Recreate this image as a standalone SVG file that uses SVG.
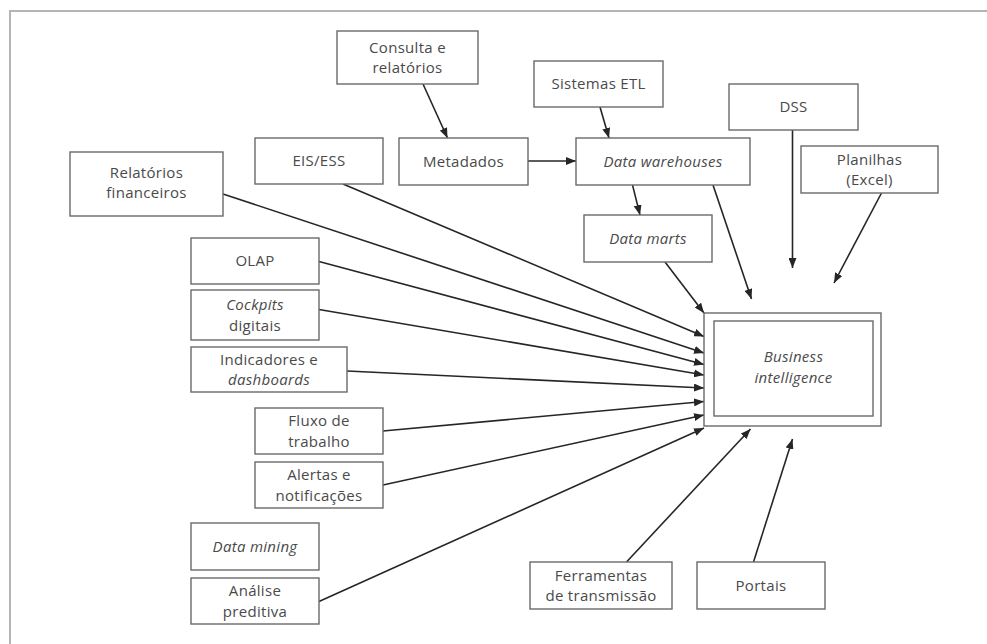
<svg xmlns="http://www.w3.org/2000/svg" width="987" height="644" viewBox="0 0 987 644">
  <style>
    .box { fill: #ffffff; stroke: #6a6a6a; stroke-width: 1.4; }
    .lbl { font-family: "Open Sans", "Noto Sans", "Liberation Sans", sans-serif; font-size: 15px; letter-spacing: 0.3px; fill: #4a4a4a; text-anchor: middle; }
    .it { font-style: italic; }
    .edge { fill: none; stroke: #262626; stroke-width: 1.6; marker-end: url(#arrow); }
    .frame { fill: none; stroke: #b4b4b4; stroke-width: 2; }
  </style>
  <defs>
    <marker id="arrow" viewBox="0 0 10 8" refX="10" refY="4" markerWidth="10" markerHeight="8" markerUnits="userSpaceOnUse" orient="auto">
      <path d="M0,0 L10,4 L0,8 Z" fill="#262626"/>
    </marker>
  </defs>

  <rect width="987" height="644" fill="#ffffff"/>
  <!-- open page frame: top and left edges only -->
  <path class="frame" d="M10,644 L10,11 L987,11"/>

  <g id="connectors">
    <line class="edge" x1="423" y1="84" x2="447.5" y2="138"/>
    <line class="edge" x1="600" y1="107" x2="609" y2="138"/>
    <line class="edge" x1="528" y1="161" x2="576" y2="161"/>
    <line class="edge" x1="632.5" y1="185" x2="640" y2="215"/>
    <line class="edge" x1="713" y1="185" x2="751.5" y2="299"/>
    <line class="edge" x1="792.5" y1="130" x2="792.5" y2="268"/>
    <line class="edge" x1="881.5" y1="193" x2="834" y2="283"/>
    <line class="edge" x1="665" y1="262" x2="704" y2="313"/>
    <line class="edge" x1="343" y1="184" x2="704" y2="336.5"/>
    <line class="edge" x1="223" y1="194" x2="704" y2="353"/>
    <line class="edge" x1="319" y1="261.5" x2="704" y2="364.5"/>
    <line class="edge" x1="319" y1="309.5" x2="704" y2="375"/>
    <line class="edge" x1="347" y1="371" x2="704" y2="388"/>
    <line class="edge" x1="383" y1="431" x2="704" y2="401.5"/>
    <line class="edge" x1="383" y1="485" x2="704" y2="415"/>
    <line class="edge" x1="319" y1="601.5" x2="704" y2="428"/>
    <line class="edge" x1="626.5" y1="562" x2="750.5" y2="429"/>
    <line class="edge" x1="753.5" y1="562" x2="792.5" y2="439"/>
  </g>

  <g id="consulta">
    <rect class="box" x="337" y="31" width="141" height="53"/>
    <text class="lbl" x="407.5" y="52.5">Consulta e</text>
    <text class="lbl" x="407.5" y="73">relatórios</text>
  </g>
  <g id="sistemas-etl">
    <rect class="box" x="534" y="61" width="129" height="46"/>
    <text class="lbl" x="598.5" y="89.4">Sistemas ETL</text>
  </g>
  <g id="dss">
    <rect class="box" x="729" y="84" width="129" height="46"/>
    <text class="lbl" x="793.5" y="112.4">DSS</text>
  </g>
  <g id="eis-ess">
    <rect class="box" x="255" y="138" width="128" height="46"/>
    <text class="lbl" x="319" y="166.4">EIS/ESS</text>
  </g>
  <g id="metadados">
    <rect class="box" x="399" y="138" width="129" height="47"/>
    <text class="lbl" x="463.5" y="166.9">Metadados</text>
  </g>
  <g id="data-warehouses">
    <rect class="box" x="576" y="138" width="174" height="47"/>
    <text class="lbl it" x="663" y="166.9">Data warehouses</text>
  </g>
  <g id="relatorios-financeiros">
    <rect class="box" x="70" y="152" width="153" height="64"/>
    <text class="lbl" x="146.5" y="177.5">Relatórios</text>
    <text class="lbl" x="146.5" y="198">financeiros</text>
  </g>
  <g id="planilhas">
    <rect class="box" x="801" y="146" width="137" height="47"/>
    <text class="lbl" x="869.5" y="164.5">Planilhas</text>
    <text class="lbl" x="869.5" y="185">(Excel)</text>
  </g>
  <g id="data-marts">
    <rect class="box" x="584" y="215" width="128" height="47"/>
    <text class="lbl it" x="648" y="243.9">Data marts</text>
  </g>
  <g id="olap">
    <rect class="box" x="191" y="238" width="128" height="46"/>
    <text class="lbl" x="255" y="266.4">OLAP</text>
  </g>
  <g id="cockpits-digitais">
    <rect class="box" x="191" y="290" width="128" height="50"/>
    <text class="lbl it" x="255" y="310">Cockpits</text>
    <text class="lbl" x="255" y="330.5">digitais</text>
  </g>
  <g id="indicadores-dashboards">
    <rect class="box" x="191" y="347" width="156" height="45"/>
    <text class="lbl" x="269" y="364.5">Indicadores e</text>
    <text class="lbl it" x="269" y="385">dashboards</text>
  </g>
  <g id="fluxo-de-trabalho">
    <rect class="box" x="255" y="408" width="128" height="46"/>
    <text class="lbl" x="319" y="426">Fluxo de</text>
    <text class="lbl" x="319" y="446.5">trabalho</text>
  </g>
  <g id="alertas-notificacoes">
    <rect class="box" x="255" y="462" width="128" height="46"/>
    <text class="lbl" x="319" y="480">Alertas e</text>
    <text class="lbl" x="319" y="500.5">notificações</text>
  </g>
  <g id="data-mining">
    <rect class="box" x="191" y="523" width="128" height="47"/>
    <text class="lbl it" x="255" y="551.9">Data mining</text>
  </g>
  <g id="analise-preditiva">
    <rect class="box" x="191" y="578" width="128" height="46"/>
    <text class="lbl" x="255" y="596">Análise</text>
    <text class="lbl" x="255" y="616.5">preditiva</text>
  </g>
  <g id="ferramentas-transmissao">
    <rect class="box" x="530" y="562" width="142" height="47"/>
    <text class="lbl" x="601" y="580.5">Ferramentas</text>
    <text class="lbl" x="601" y="601">de transmissão</text>
  </g>
  <g id="portais">
    <rect class="box" x="697" y="562" width="128" height="47"/>
    <text class="lbl" x="761" y="590.9">Portais</text>
  </g>
  <g id="business-intelligence">
    <rect class="box" x="704" y="313" width="177" height="113"/>
    <rect class="box" x="714" y="321" width="159" height="95"/>
    <text class="lbl it" x="793.5" y="362">Business</text>
    <text class="lbl it" x="793.5" y="382.5">intelligence</text>
  </g>
</svg>
